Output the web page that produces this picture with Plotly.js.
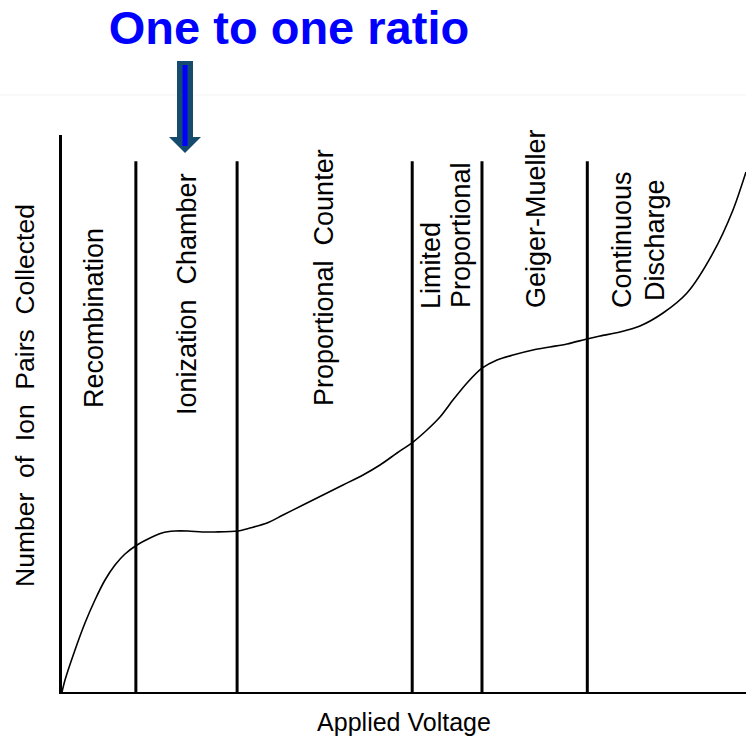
<!DOCTYPE html>
<html>
<head>
<meta charset="utf-8">
<script src="https://cdn.plot.ly/plotly-3.0.1.min.js"></script>
<style>html,body{margin:0;padding:0;background:#fff;}</style>
</head>
<body>
<div id="chart" style="width:746px;height:739px;"></div>
<script>
// Applied voltage (relative units, 0-100) and ion pairs collected (relative units, 0-100)
const voltage = [0, 0.44, 1.90, 3.36, 4.82, 6.29, 7.75, 9.21, 10.96, 12.57, 14.62, 16.52, 18.42, 20.47, 22.37, 25.73, 27.49, 29.97, 32.31, 35.23, 38.16, 41.08, 44.01, 46.49, 48.98, 51.32, 53.36, 55.26, 57.16, 59.21, 61.40, 63.60, 65.94, 68.86, 71.35, 73.83, 76.75, 78.65, 81.58, 84.50, 87.87, 91.37, 95.18, 98.10, 100];
const ionPairs = [0, 2.15, 7.54, 12.39, 16.52, 20.11, 22.80, 24.78, 26.39, 27.47, 28.55, 28.90, 28.90, 28.73, 28.73, 28.90, 29.44, 30.34, 31.78, 33.57, 35.37, 37.16, 38.96, 40.75, 42.91, 44.88, 47.04, 49.37, 52.42, 55.48, 58.13, 59.61, 60.50, 61.40, 61.94, 62.48, 63.38, 63.91, 64.63, 65.71, 68.04, 71.63, 78.82, 86.54, 93.36];

// Region boundaries on the voltage axis
const boundaries = [10.8, 25.6, 51.2, 61.4, 76.8];
const boundaryTop = 95.3;

// Region labels
const regionLabels = ["Recombination", "Ionization\u00A0 Chamber", "Proportional\u00A0 Counter", "Limited", "Proportional", "Geiger-Mueller", "Continuous", "Discharge"];

const titleText = "One to one ratio";
const xTitle = "Applied Voltage";
const yTitle = "Number\u00A0 of\u00A0 Ion\u00A0 Pairs\u00A0 Collected";

const W = 746, H = 739;
const L = 62, R = 0, T = 135, B = 47;
const pw = W - L - R, ph = H - T - B;
const px = v => (v - L) / pw;       // pixel x -> paper
const py = v => (H - B - v) / ph;   // pixel y -> paper

// vertical boundary lines from data
const bx = [], by = [];
boundaries.forEach(b => { bx.push(b, b, null); by.push(0, boundaryTop, null); });

const traces = [
  { x: bx, y: by, mode: 'lines', line: { color: '#000', width: 3 }, hoverinfo: 'skip', showlegend: false },
  { x: voltage, y: ionPairs, mode: 'lines', line: { color: '#000', width: 1.6, shape: 'spline', smoothing: 0.8 }, showlegend: false }
];

const fam = 'Liberation Sans, Arial, sans-serif';
const labelFont = { family: fam, size: 27, color: '#000' };
const labelPos = [
  [94, 318], [187, 294], [324, 278], [431, 266], [461, 235], [536, 219], [622, 240], [655, 240]
];
const annotations = regionLabels.map((t, i) => ({
  text: t, xref: 'paper', yref: 'paper', x: px(labelPos[i][0]), y: py(labelPos[i][1]),
  xanchor: 'center', yanchor: 'middle', textangle: -90, showarrow: false, font: labelFont
}));
annotations.push({
  text: yTitle, xref: 'paper', yref: 'paper', x: px(25), y: py(396),
  xanchor: 'center', yanchor: 'middle', textangle: -90, showarrow: false,
  font: { family: fam, size: 26.5, color: '#000' }
});

const shapes = [
  // faint slide line
  { type: 'line', xref: 'paper', yref: 'paper', x0: px(0), x1: px(746), y0: py(95), y1: py(95), line: { color: '#f3f3f3', width: 1 } },
  // arrow shaft
  { type: 'rect', xref: 'paper', yref: 'paper', x0: px(177), x1: px(193), y0: py(137), y1: py(61), fillcolor: '#154B6E', line: { width: 0 } },
  // arrow head
  { type: 'path', xref: 'paper', yref: 'paper', path: `M ${px(169)},${py(137)} L ${px(201)},${py(137)} L ${px(185)},${py(153)} Z`, fillcolor: '#154B6E', line: { width: 0 } },
  // blue inner stroke
  { type: 'line', xref: 'paper', yref: 'paper', x0: px(185), x1: px(185), y0: py(65), y1: py(146), line: { color: '#0000FF', width: 5 } }
];

const layout = {
  width: W, height: H,
  margin: { l: L, r: R, t: T, b: B, pad: 0 },
  paper_bgcolor: '#fff', plot_bgcolor: '#fff',
  title: { text: '<b>' + titleText + '</b>', font: { family: fam, size: 47, color: '#0000FF' },
           xref: 'paper', x: px(289), xanchor: 'center', yref: 'container', y: 1 - 28 / H, yanchor: 'middle' },
  xaxis: { range: [0, 100], showgrid: false, zeroline: false, showticklabels: false, ticks: '',
           showline: true, linecolor: '#000', linewidth: 2, fixedrange: true,
           title: { text: xTitle, font: { family: fam, size: 25, color: '#000' }, standoff: 20 } },
  yaxis: { range: [0, 100], showgrid: false, zeroline: false, showticklabels: false, ticks: '',
           showline: true, linecolor: '#000', linewidth: 3, fixedrange: true },
  annotations: annotations,
  shapes: shapes,
  showlegend: false
};

Plotly.newPlot('chart', traces, layout, { displayModeBar: false, staticPlot: true });
</script>
</body>
</html>
